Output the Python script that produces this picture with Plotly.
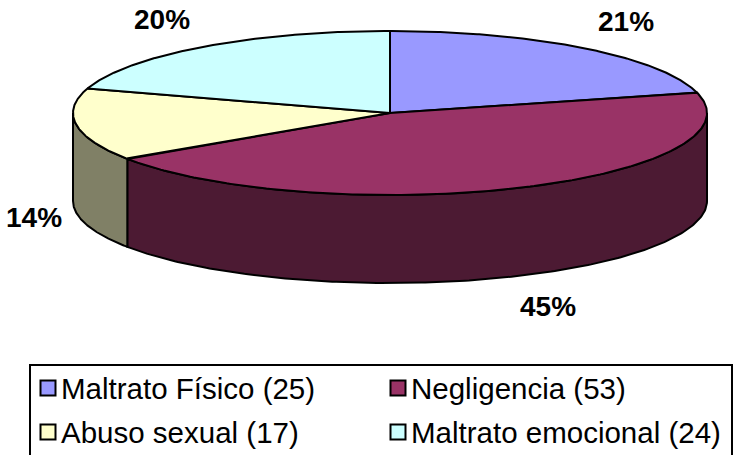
import numpy as np
import plotly.graph_objects as go

# ---- data ----
categories = ["Maltrato Físico", "Negligencia", "Abuso sexual", "Maltrato emocional"]
counts = [25, 53, 17, 24]
top_colors = ["#9999FF", "#993366", "#FFFFCC", "#CCFFFF"]
side_colors = ["#4D4D80", "#4C1A33", "#808066", "#668080"]

# ---- layout geometry (pixels) ----
W, H = 735, 455
CX, CY, RX, RY, DEPTH = 390, 113, 317, 82, 88
LRX, LRY = 385, 116  # label ellipse
FONT = "Liberation Sans, Arial, sans-serif"

total = sum(counts)
fracs = [c / total for c in counts]
bounds = []
a = np.pi / 2
for f in fracs:
    b = a - 2 * np.pi * f
    bounds.append((a, b))
    a = b


def arc(t0, t1, dy=0, n=200):
    t = np.linspace(t0, t1, n)
    return list(CX + RX * np.cos(t)), list(CY - RY * np.sin(t) + dy)


fig = go.Figure()

# visible sides (front half: theta in [-pi, 0])
for i, (a, b) in enumerate(bounds):
    hi, lo = min(a, 0.0), max(b, -np.pi)
    if hi <= lo:
        continue
    x1, y1 = arc(hi, lo)
    x2, y2 = arc(lo, hi, DEPTH)
    fig.add_trace(go.Scatter(
        x=x1 + x2 + [x1[0]], y=y1 + y2 + [y1[0]], mode="lines", fill="toself",
        fillcolor=side_colors[i], line=dict(color="black", width=2),
        name=categories[i], hoverinfo="name", showlegend=False))

# top faces
for i, (a, b) in enumerate(bounds):
    xs, ys = arc(a, b)
    fig.add_trace(go.Scatter(
        x=[CX] + xs + [CX], y=[CY] + ys + [CY], mode="lines", fill="toself",
        fillcolor=top_colors[i], line=dict(color="black", width=2),
        name=categories[i], hoverinfo="name", showlegend=False))

annotations = []
# percent labels
for i, (a, b) in enumerate(bounds):
    m = (a + b) / 2
    x = CX + LRX * np.cos(m)
    y = CY - LRY * np.sin(m)
    if np.sin(m) < 0:
        y += DEPTH
    x = min(max(x, 34), W - 34)
    annotations.append(dict(
        x=x, y=y, xref="x", yref="y", showarrow=False,
        text=f"<b>{round(100 * counts[i] / total)}%</b>",
        font=dict(family=FONT, size=28, color="black"),
        xanchor="center", yanchor="middle"))

# legend (manual)
LX0, LY0, COLW, ROWH = 30, 365, 350, 44
shapes = [dict(type="rect", xref="x", yref="y", x0=LX0, x1=732, y0=LY0, y1=H + 20,
               line=dict(color="black", width=2), fillcolor="rgba(0,0,0,0)")]
for i, cat in enumerate(categories):
    col, row = i % 2, i // 2
    sx = LX0 + 18 + col * COLW
    sy = LY0 + 23 + row * ROWH
    fig.add_trace(go.Scatter(
        x=[sx], y=[sy], mode="markers",
        marker=dict(symbol="square", size=15, color=top_colors[i],
                    line=dict(color="black", width=2)),
        hoverinfo="skip", showlegend=False))
    annotations.append(dict(
        x=sx + 11, y=sy, xref="x", yref="y", showarrow=False,
        text=f"{cat} ({counts[i]})",
        font=dict(family=FONT, size=29.5, color="black"),
        xanchor="left", yanchor="middle"))

fig.update_layout(
    width=W, height=H, margin=dict(l=0, r=0, t=0, b=0),
    paper_bgcolor="white", plot_bgcolor="white", showlegend=False,
    xaxis=dict(range=[0, W], visible=False, fixedrange=True),
    yaxis=dict(range=[H, 0], visible=False, fixedrange=True),
    annotations=annotations, shapes=shapes)

fig.write_html("out.html",
               config={"displayModeBar": False},
               post_script="document.body.style.margin='0px';"
                           "document.body.style.overflow='hidden';")
